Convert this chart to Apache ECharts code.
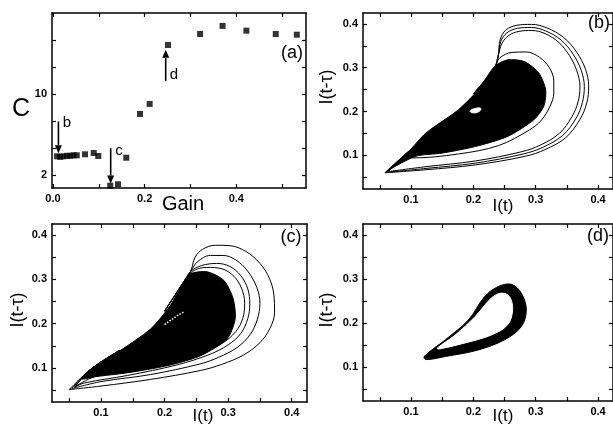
<!DOCTYPE html>
<html>
<head>
<meta charset="utf-8">
<script src="https://cdn.jsdelivr.net/npm/echarts@6.0.0/dist/echarts.min.js"></script>
<style>
  html, body { margin: 0; padding: 0; background: #fff; }
  #chart { width: 613px; height: 426px; }
</style>
</head>
<body>
<div id="chart"></div>
<script>
// panel (a): C vs gain
const gainValues = [0.009, 0.016, 0.023, 0.031, 0.038, 0.045, 0.052, 0.070, 0.089, 0.099,
  0.125, 0.142, 0.160, 0.190, 0.211, 0.251, 0.321, 0.370, 0.422, 0.486, 0.532];
const cValues = [3.85, 3.8, 3.85, 3.9, 3.9, 3.95, 3.95, 4.05, 4.18, 3.88,
  0.94, 1.08, 3.71, 8.05, 9.04, 14.88, 15.97, 16.77, 16.30, 15.97, 15.90];
const arrowGain = [0.012, 0.126, 0.246];
const arrowFrom = [7.3, 4.65, 11.3];
const arrowTo = [4.15, 1.15, 14.4];
const arrowNames = ["b", "c", "d"];

const gainTicks = [0, 0.1, 0.2, 0.3, 0.4, 0.5];
const gainLabels = [0, 0.2, 0.4];
const cTicks = [2, 4.667, 7.333, 10, 12.667, 15.333];
const cLabels = [2, 10];
const phaseTicks = [0.05, 0.1, 0.15, 0.2, 0.25, 0.3, 0.35, 0.4];
const phaseLabels = [0.1, 0.2, 0.3, 0.4];

// panel (b): dense core outline and the looser loops around it
const bCore = [[0.060, 0.062], [0.097, 0.110], [0.124, 0.151], [0.176, 0.204], [0.208, 0.250],
  [0.234, 0.303], [0.255, 0.318], [0.282, 0.314], [0.305, 0.288], [0.316, 0.250],
  [0.313, 0.212], [0.297, 0.181], [0.255, 0.143], [0.203, 0.120], [0.150, 0.105],
  [0.108, 0.098], [0.075, 0.075]];
const bHole = [[0.195, 0.201], [0.203, 0.207], [0.212, 0.207], [0.209, 0.200], [0.199, 0.197]];
const bLoop1 = [[0.200, 0.240], [0.234, 0.300], [0.240, 0.328], [0.243, 0.364], [0.252, 0.386],
  [0.270, 0.397], [0.293, 0.399], [0.318, 0.391], [0.345, 0.369], [0.366, 0.335],
  [0.380, 0.296], [0.385, 0.258], [0.382, 0.220], [0.371, 0.182], [0.348, 0.140],
  [0.315, 0.113], [0.284, 0.098], [0.203, 0.078], [0.124, 0.067], [0.058, 0.060],
  [0.097, 0.110], [0.140, 0.160]];
const bLoop2 = [[0.200, 0.240], [0.234, 0.300], [0.240, 0.328], [0.244, 0.360], [0.254, 0.380],
  [0.271, 0.390], [0.293, 0.392], [0.316, 0.384], [0.341, 0.363], [0.360, 0.331],
  [0.373, 0.294], [0.378, 0.257], [0.375, 0.221], [0.365, 0.185], [0.343, 0.145],
  [0.311, 0.118], [0.280, 0.103], [0.203, 0.082], [0.124, 0.070], [0.061, 0.061],
  [0.097, 0.110], [0.140, 0.160]];
const bLoop3 = [[0.200, 0.240], [0.234, 0.300], [0.240, 0.328], [0.246, 0.356], [0.257, 0.374],
  [0.273, 0.383], [0.294, 0.385], [0.315, 0.378], [0.337, 0.358], [0.354, 0.328],
  [0.366, 0.293], [0.371, 0.257], [0.368, 0.222], [0.358, 0.188], [0.338, 0.150],
  [0.307, 0.123], [0.277, 0.108], [0.203, 0.087], [0.124, 0.074], [0.064, 0.063],
  [0.097, 0.110], [0.140, 0.160]];
const bLoop4 = [[0.200, 0.240], [0.234, 0.300], [0.242, 0.322], [0.262, 0.335], [0.285, 0.336],
  [0.306, 0.324], [0.322, 0.300], [0.329, 0.270], [0.329, 0.242], [0.323, 0.212],
  [0.309, 0.180], [0.290, 0.158], [0.240, 0.122], [0.176, 0.103], [0.102, 0.094],
  [0.092, 0.099]];

// panel (c)
const cCore = [[0.070, 0.075], [0.084, 0.097], [0.126, 0.135], [0.178, 0.188], [0.209, 0.241],
  [0.230, 0.294], [0.241, 0.313], [0.267, 0.317], [0.293, 0.298], [0.308, 0.256],
  [0.311, 0.210], [0.298, 0.165], [0.256, 0.127], [0.204, 0.105], [0.142, 0.089],
  [0.090, 0.080]];
const cLoop1 = [[0.200, 0.228], [0.230, 0.294], [0.241, 0.318], [0.248, 0.350], [0.260, 0.368],
  [0.280, 0.377], [0.303, 0.376], [0.328, 0.363], [0.350, 0.336], [0.365, 0.302],
  [0.372, 0.264], [0.373, 0.226], [0.366, 0.190], [0.350, 0.157], [0.324, 0.129],
  [0.290, 0.108], [0.256, 0.094], [0.178, 0.074], [0.100, 0.059], [0.050, 0.051],
  [0.084, 0.097], [0.130, 0.140]];
const cLoop2 = [[0.200, 0.228], [0.230, 0.294], [0.241, 0.318], [0.252, 0.340], [0.272, 0.354],
  [0.292, 0.354], [0.312, 0.344], [0.331, 0.318], [0.345, 0.282], [0.350, 0.246],
  [0.346, 0.210], [0.335, 0.176], [0.314, 0.146], [0.285, 0.124], [0.256, 0.109],
  [0.178, 0.085], [0.100, 0.069], [0.054, 0.053], [0.084, 0.097], [0.130, 0.140]];
const cLoop3 = [[0.200, 0.228], [0.230, 0.294], [0.241, 0.318], [0.258, 0.331], [0.282, 0.336],
  [0.303, 0.329], [0.320, 0.308], [0.331, 0.278], [0.334, 0.244], [0.331, 0.212],
  [0.320, 0.178], [0.300, 0.152], [0.270, 0.130], [0.220, 0.107], [0.142, 0.083],
  [0.074, 0.066], [0.058, 0.056], [0.084, 0.097], [0.130, 0.140]];
const cLoop4 = [[0.200, 0.228], [0.230, 0.294], [0.244, 0.318], [0.266, 0.327], [0.290, 0.324],
  [0.309, 0.307], [0.321, 0.280], [0.326, 0.246], [0.323, 0.212], [0.312, 0.182],
  [0.290, 0.155], [0.256, 0.133], [0.210, 0.113], [0.150, 0.095], [0.090, 0.080],
  [0.060, 0.058], [0.084, 0.097], [0.130, 0.140]];
const cSpecks = [[0.200, 0.198], [0.212, 0.210], [0.222, 0.220], [0.230, 0.226]];

// panel (d): band between an outer and an inner outline
const dOuter = [[0.121, 0.124], [0.155, 0.162], [0.192, 0.207], [0.218, 0.260], [0.240, 0.283],
  [0.261, 0.288], [0.277, 0.268], [0.285, 0.230], [0.277, 0.192], [0.250, 0.162],
  [0.208, 0.139], [0.155, 0.124], [0.124, 0.117]];
const dInner = [[0.142, 0.143], [0.171, 0.173], [0.203, 0.215], [0.229, 0.257], [0.245, 0.268],
  [0.258, 0.260], [0.263, 0.230], [0.255, 0.196], [0.229, 0.173], [0.187, 0.155],
  [0.145, 0.141]];

const FONT = "Liberation Sans, Arial, sans-serif";
const grids = [
  { left: 52, top: 13, width: 254, height: 175 },
  { left: 363, top: 13, width: 254, height: 176 },
  { left: 52, top: 224, width: 255, height: 178 },
  { left: 363, top: 224, width: 254, height: 177 },
];

function axis(gridIndex, position, min, max, ticks, labels, fmt) {
  const main = position === "bottom" || position === "left";
  return {
    type: "value",
    gridIndex: gridIndex,
    position: position,
    min: min,
    max: max,
    axisLine: { show: true, onZero: false, lineStyle: { color: "#000", width: 1.5 } },
    axisTick: { show: true, inside: true, length: 4, customValues: ticks, lineStyle: { color: "#000", width: 1.2 } },
    axisLabel: {
      show: main,
      customValues: labels,
      margin: 5,
      color: "#000",
      fontSize: 11,
      fontWeight: "bold",
      fontFamily: FONT,
      formatter: fmt,
    },
    splitLine: { show: false },
  };
}

const fmt1 = (v) => v.toFixed(1);
const fmtInt = (v) => String(Math.round(v));

const xAxes = [
  axis(0, "bottom", -0.002, 0.552, gainTicks, gainLabels, fmt1),
  axis(0, "top", -0.002, 0.552, gainTicks, gainLabels, fmt1),
];
const yAxes = [
  axis(0, "left", 0.71, 18.05, cTicks, cLabels, fmtInt),
  axis(0, "right", 0.71, 18.05, cTicks, cLabels, fmtInt),
];
for (let g = 1; g < 4; g++) {
  xAxes.push(axis(g, "bottom", 0.023, 0.424, phaseTicks, phaseLabels, fmt1));
  xAxes.push(axis(g, "top", 0.023, 0.424, phaseTicks, phaseLabels, fmt1));
  yAxes.push(axis(g, "left", 0.023, 0.425, phaseTicks, phaseLabels, fmt1));
  yAxes.push(axis(g, "right", 0.023, 0.425, phaseTicks, phaseLabels, fmt1));
}

function loop(g, pts, width) {
  return {
    type: "line",
    xAxisIndex: 2 * g,
    yAxisIndex: 2 * g,
    data: pts,
    smooth: 0.35,
    showSymbol: false,
    silent: true,
    z: 3,
    lineStyle: { color: "#000", width: width || 1 },
  };
}

function blob(g, pts, fill, smooth, z) {
  return {
    type: "custom",
    xAxisIndex: 2 * g,
    yAxisIndex: 2 * g,
    data: pts,
    silent: true,
    z: z,
    renderItem: function (params, api) {
      if (params.dataIndex !== 0) return;
      const points = pts.map((p) => api.coord(p));
      return {
        type: "polygon",
        shape: { points: points, smooth: smooth },
        style: { fill: fill, stroke: fill, lineWidth: 1 },
      };
    },
  };
}

const series = [
  {
    type: "scatter",
    xAxisIndex: 0,
    yAxisIndex: 0,
    data: gainValues.map((x, i) => [x, cValues[i]]),
    symbol: "rect",
    symbolSize: 6,
    itemStyle: { color: "#000" },
  },
  {
    // annotation arrows b, c, d
    type: "custom",
    xAxisIndex: 0,
    yAxisIndex: 0,
    data: arrowGain.map((x, i) => [x, arrowFrom[i], arrowTo[i]]),
    silent: true,
    z: 4,
    renderItem: function (params, api) {
      const p1 = api.coord([api.value(0), api.value(1)]);
      const p2 = api.coord([api.value(0), api.value(2)]);
      const dir = p2[1] > p1[1] ? 1 : -1;
      const headLen = 8, headW = 3.5;
      return {
        type: "group",
        children: [
          {
            type: "line",
            shape: { x1: p1[0], y1: p1[1], x2: p2[0], y2: p2[1] - dir * headLen },
            style: { stroke: "#000", lineWidth: 1.6 },
          },
          {
            type: "polygon",
            shape: {
              points: [
                [p2[0], p2[1]],
                [p2[0] - headW, p2[1] - dir * headLen],
                [p2[0] + headW, p2[1] - dir * headLen],
              ],
            },
            style: { fill: "#000" },
          },
        ],
      };
    },
  },
  loop(1, bLoop1), loop(1, bLoop2), loop(1, bLoop3), loop(1, bLoop4),
  blob(1, bCore, "#000", 0.25, 4),
  blob(1, bHole, "#fff", 0.5, 5),
  loop(2, cLoop1), loop(2, cLoop2), loop(2, cLoop3), loop(2, cLoop4),
  blob(2, cCore, "#000", 0.25, 4),
  {
    type: "line",
    xAxisIndex: 4,
    yAxisIndex: 4,
    data: cSpecks,
    showSymbol: false,
    silent: true,
    z: 5,
    lineStyle: { color: "#fff", width: 1.5, type: "dotted" },
  },
  blob(3, dOuter, "#000", 0.35, 4),
  blob(3, dInner, "#fff", 0.35, 5),
];

function txt(text, x, y, size, align, rot) {
  return {
    type: "text",
    x: x,
    y: y,
    rotation: rot || 0,
    z: 10,
    style: {
      text: text,
      fill: "#000",
      font: size + "px " + FONT,
      textAlign: align || "center",
      textVerticalAlign: "middle",
    },
  };
}

const graphics = [
  txt("C", 21, 109, 25),
  txt("Gain", 183, 204, 20),
  txt("(a)", 292, 53, 18),
  txt("(b)", 588, 23, 18, "left"),
  txt("(c)", 291, 237, 18),
  txt("(d)", 587, 236, 18, "left"),
  txt("I(t)", 503, 206, 17),
  txt("I(t)", 203, 416, 17),
  txt("I(t)", 503, 416, 17),
  txt("I(t-τ)", 327, 87, 18, "center", Math.PI / 2),
  txt("I(t-τ)", 18, 310, 18, "center", Math.PI / 2),
  txt("I(t-τ)", 327, 310, 18, "center", Math.PI / 2),
  txt(arrowNames[0], 67, 123, 15),
  txt(arrowNames[1], 119, 151, 15),
  txt(arrowNames[2], 174, 75, 15),
];

const chart = echarts.init(document.getElementById("chart"), null, { renderer: "canvas" });
chart.setOption({
  animation: false,
  backgroundColor: "#fff",
  grid: grids,
  xAxis: xAxes,
  yAxis: yAxes,
  series: series,
  graphic: graphics,
});
</script>
</body>
</html>
